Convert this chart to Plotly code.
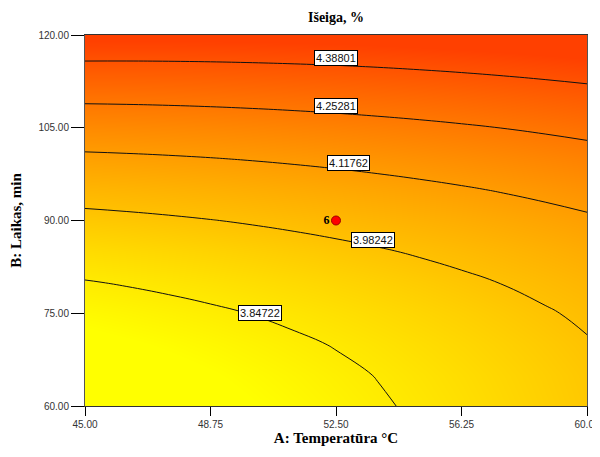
import plotly.graph_objects as go

# Factor grid (A: temperature, B: time)
temperature = [45.0, 46.25, 47.5, 48.75, 50.0, 51.25, 52.5, 53.75, 55.0, 56.25, 57.5, 58.75, 60.0]
time_min = [60.0, 65.0, 70.0, 75.0, 80.0, 85.0, 90.0, 95.0, 100.0, 105.0, 110.0, 115.0, 120.0]

# Response "Išeiga, %" (rows = time, cols = temperature)
yield_pct = [
    [3.7088, 3.7244, 3.7409, 3.7583, 3.7767, 3.7960, 3.8163, 3.8375, 3.8597, 3.8828, 3.9069, 3.9319, 3.9578],
    [3.7310, 3.7451, 3.7602, 3.7763, 3.7933, 3.8112, 3.8301, 3.8499, 3.8706, 3.8923, 3.9150, 3.9386, 3.9631],
    [3.7608, 3.7735, 3.7872, 3.8018, 3.8174, 3.8340, 3.8514, 3.8698, 3.8892, 3.9095, 3.9308, 3.9530, 3.9761],
    [3.7982, 3.8095, 3.8218, 3.8350, 3.8492, 3.8643, 3.8804, 3.8974, 3.9154, 3.9343, 3.9541, 3.9749, 3.9967],
    [3.8432, 3.8531, 3.8640, 3.8758, 3.8886, 3.9023, 3.9170, 3.9326, 3.9492, 3.9667, 3.9851, 4.0045, 4.0248],
    [3.8958, 3.9043, 3.9138, 3.9242, 3.9356, 3.9479, 3.9612, 3.9754, 3.9906, 4.0066, 4.0237, 4.0417, 4.0606],
    [3.9560, 3.9631, 3.9712, 3.9803, 3.9902, 4.0011, 4.0130, 4.0258, 4.0396, 4.0543, 4.0699, 4.0865, 4.1040],
    [4.0238, 4.0296, 4.0363, 4.0439, 4.0525, 4.0620, 4.0724, 4.0838, 4.0962, 4.1095, 4.1237, 4.1389, 4.1550],
    [4.0993, 4.1036, 4.1089, 4.1151, 4.1223, 4.1304, 4.1395, 4.1495, 4.1604, 4.1723, 4.1851, 4.1989, 4.2136],
    [4.1824, 4.1853, 4.1892, 4.1940, 4.1997, 4.2064, 4.2141, 4.2227, 4.2322, 4.2427, 4.2542, 4.2665, 4.2799],
    [4.2730, 4.2746, 4.2770, 4.2804, 4.2848, 4.2901, 4.2964, 4.3036, 4.3117, 4.3208, 4.3308, 4.3418, 4.3537],
    [4.3713, 4.3714, 4.3725, 4.3745, 4.3775, 4.3814, 4.3862, 4.3920, 4.3988, 4.4064, 4.4151, 4.4246, 4.4351],
    [4.4772, 4.4759, 4.4756, 4.4762, 4.4778, 4.4803, 4.4837, 4.4881, 4.4934, 4.4997, 4.5069, 4.5151, 4.5242],
]

# Contour levels shown
levels = [3.84722, 3.98242, 4.11762, 4.25281, 4.38801]
level_labels = ["3.84722", "3.98242", "4.11762", "4.25281", "4.38801"]
label_temp = [50.24, 53.61, 52.87, 52.50, 52.50]
label_time = [75.1, 86.9, 99.35, 108.5, 116.3]

# Design (center) point
design_temp = [52.5]
design_time = [90.0]
design_reps = ["6"]

x_ticks = [45.0, 48.75, 52.5, 56.25, 60.0]
y_ticks = [60.0, 75.0, 90.0, 105.0, 120.0]

serif = "Times New Roman, Liberation Serif, serif"
sans = "Arial, Liberation Sans, sans-serif"

fig = go.Figure()
fig.add_trace(go.Contour(
    x=temperature, y=time_min, z=yield_pct,
    colorscale=[[0.0, "#FFFF00"], [0.305, "#FFC000"], [1.0, "#FF4000"]],
    showscale=False,
    contours=dict(start=levels[0], end=levels[-1] + 0.001, size=0.13520,
                  coloring="heatmap", showlabels=False),
    line=dict(color="#111", width=1, smoothing=1.3),
    hoverinfo="skip",
))
fig.add_trace(go.Scatter(
    x=design_temp, y=design_time, mode="markers+text",
    text=design_reps, textposition="middle left",
    textfont=dict(family=serif, size=12, color="black", weight="bold"),
    marker=dict(color="#FF0000", size=9, line=dict(color="#A00000", width=1)),
    showlegend=False, hoverinfo="skip",
))

for t, tm, lab in zip(label_temp, label_time, level_labels):
    fig.add_annotation(
        x=t, y=tm, text=lab, showarrow=False,
        font=dict(family=sans, size=11, color="#111"),
        bgcolor="white", bordercolor="black", borderwidth=1, borderpad=1,
    )

# The page body adds an 8px offset, so the figure is 8px smaller on each side.
fig.update_layout(
    width=592, height=449,
    margin=dict(l=77, r=13, t=27, b=51),
    paper_bgcolor="white", plot_bgcolor="white",
    showlegend=False,
    title=dict(text="Išeiga, %", xref="paper", x=0.5, xanchor="center",
               yref="container", y=0.98, yanchor="middle",
               font=dict(family=serif, size=14, color="black", weight="bold")),
    xaxis=dict(
        range=[45, 60], tickvals=x_ticks, tickformat=".2f", automargin=False,
        ticks="outside", ticklen=9, tickcolor="black", tickwidth=1,
        showline=True, linecolor="#333", linewidth=1, mirror=True,
        showgrid=False, zeroline=False,
        tickfont=dict(family=sans, size=10, color="#333"),
        title=dict(text="A: Temperatūra °C", standoff=1,
                   font=dict(family=serif, size=15, color="black", weight="bold")),
    ),
    yaxis=dict(
        range=[60, 120], tickvals=y_ticks, tickformat=".2f", automargin=False,
        ticks="outside", ticklen=13, tickcolor="black", tickwidth=1,
        showline=True, linecolor="#555", linewidth=1, mirror=True,
        showgrid=False, zeroline=False,
        tickfont=dict(family=sans, size=10, color="#333"),
        title=dict(text="B: Laikas, min", standoff=14,
                   font=dict(family=serif, size=15, color="black", weight="bold")),
    ),
)

fig.write_html("out.html")
